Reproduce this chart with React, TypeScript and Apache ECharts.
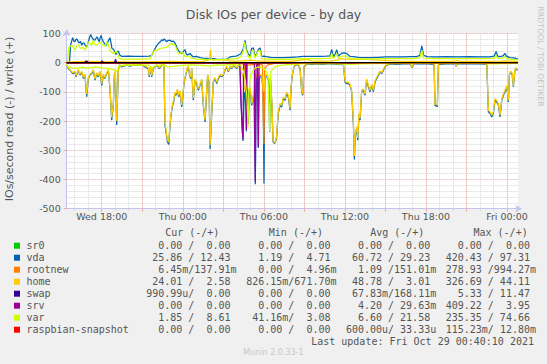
import React, { useEffect, useRef } from "react";
import * as echarts from "echarts";

const TITLE = "Disk IOs per device - by day";
const Y_TITLE = "IOs/second read (-) / write (+)";
const SIDE_TEXT = "RRDTOOL / TOBI OETIKER";
const FOOTER = "Munin 2.0.33-1";
const LAST_UPDATE = "Last update: Fri Oct 29 00:40:10 2021";

// hours since Wed 00:00
const X_START = 15.41;
const X_END = 48.81;
const xLabelHours = [18, 24, 30, 36, 42, 48];
const xLabels = ["Wed 18:00", "Thu 00:00", "Thu 06:00", "Thu 12:00", "Thu 18:00", "Fri 00:00"];
const majorGridHours = [18, 21, 24, 27, 30, 33, 36, 39, 42, 45, 48];
const minorGridHours = [16, 17, 18, 19, 20, 21, 22, 23, 24, 25, 26, 27, 28, 29, 30, 31, 32, 33, 34, 35, 36, 37, 38, 39, 40, 41, 42, 43, 44, 45, 46, 47, 48];
const Y_MIN = -500;
const Y_MAX = 100;
const Y_STEP = 100;

const vdaWrite = [[15.41,2],[15.62,3],[15.70,60],[15.85,85],[15.93,74],[16.02,71],[16.10,80],[16.19,79],[16.27,70],[16.34,67],[16.43,72],[16.52,59],[16.60,66],[16.69,67],[16.80,58],[16.89,53],[16.97,65],[17.04,76],[17.12,88],[17.19,96],[17.26,88],[17.33,82],[17.42,78],[17.50,76],[17.58,83],[17.65,88],[17.73,80],[17.82,71],[17.88,84],[17.95,93],[18.04,80],[18.12,71],[18.22,65],[18.32,59],[18.41,65],[18.50,75],[18.61,85],[18.68,70],[18.76,48],[18.84,47],[18.91,42],[18.98,35],[19.06,28],[19.15,35],[19.23,40],[19.30,30],[19.35,25],[19.42,23],[19.48,21],[20.0,22],[20.5,21],[21.0,21],[21.5,22],[21.70,24],[21.82,36],[21.95,48],[22.07,58],[22.19,65],[22.32,70],[22.44,78],[22.52,74],[22.61,81],[22.70,77],[22.81,71],[22.93,76],[23.06,76],[23.18,72],[23.30,73],[23.40,68],[23.50,59],[23.58,50],[23.67,42],[23.80,35],[23.92,31],[24.05,38],[24.17,44],[24.25,30],[24.34,25],[24.44,28],[24.54,31],[24.66,24],[24.78,19],[25.0,21],[25.28,17],[25.5,15],[25.77,14],[26.0,13],[26.26,13],[26.5,12],[26.76,11],[27.0,11],[27.25,12],[27.5,19],[27.74,21],[27.95,22],[28.1,25],[28.3,30],[28.48,48],[28.61,76],[28.73,42],[28.85,30],[28.98,22],[29.10,48],[29.22,50],[29.35,22],[29.47,30],[29.59,45],[29.72,50],[29.84,20],[30.0,22],[30.5,18],[31.0,17],[31.5,17],[32.0,18],[32.5,19],[32.92,21],[33.5,21],[34.16,21],[34.6,22],[34.9,23],[35.02,45],[35.15,20],[35.27,28],[35.39,44],[35.52,22],[35.76,32],[36.0,33],[36.13,31],[36.38,21],[36.62,20],[37.0,18],[37.86,17],[38.5,18],[39.10,19],[39.7,19],[40.32,19],[40.9,20],[41.32,20],[41.55,25],[41.69,57],[41.82,25],[42.06,20],[42.5,19],[42.80,19],[43.5,20],[44.3,19],[45.26,20],[46.0,19],[46.74,19],[47.05,22],[47.19,38],[47.30,22],[47.48,20],[47.70,23],[47.85,31],[47.95,22],[48.22,17],[48.5,16],[48.67,14],[48.80,13]];

const varWrite = [[15.41,1],[15.46,2],[15.55,50],[15.65,55],[15.78,59],[15.90,50],[16.02,42],[16.15,55],[16.27,61],[16.40,50],[16.52,48],[16.64,52],[16.76,42],[16.89,55],[17.01,70],[17.13,65],[17.26,60],[17.38,76],[17.50,62],[17.63,60],[17.75,64],[17.87,70],[18.00,62],[18.12,60],[18.25,55],[18.37,70],[18.50,60],[18.61,42],[18.74,36],[18.86,31],[18.98,35],[19.11,38],[19.20,25],[19.31,14],[19.5,12],[20.0,12],[20.5,12],[21.0,12],[21.58,13],[21.82,36],[21.95,42],[22.07,42],[22.20,45],[22.32,48],[22.55,50],[22.81,53],[23.00,60],[23.18,65],[23.30,60],[23.42,60],[23.55,45],[23.67,31],[23.80,30],[23.92,36],[24.05,30],[24.17,19],[24.30,20],[24.41,22],[24.55,18],[24.66,14],[25.0,12],[25.5,11],[26.0,10],[26.76,10],[27.0,10],[27.5,12],[28.0,13],[28.3,20],[28.48,40],[28.58,70],[28.68,45],[28.85,20],[29.0,15],[29.10,38],[29.22,42],[29.35,15],[29.59,40],[29.72,42],[29.84,13],[30.5,12],[31.0,11],[32.0,12],[33.0,13],[34.0,13],[34.9,14],[35.02,32],[35.15,13],[35.39,30],[35.52,14],[35.76,22],[36.13,22],[36.38,13],[37.0,12],[38.0,12],[39.0,13],[40.0,13],[41.0,13],[41.55,16],[41.69,42],[41.82,15],[42.5,13],[43.5,13],[44.5,13],[45.5,13],[46.5,13],[47.05,14],[47.19,25],[47.30,14],[47.70,15],[47.85,22],[47.95,14],[48.3,11],[48.80,9]];

const homeWrite = [[15.41,2],[16.0,3],[17.0,4],[18.0,3],[19.0,3],[20.0,2],[21.0,2],[22.0,3],[23.0,4],[24.0,3],[24.8,3],[25.5,4],[25.85,8],[25.97,10],[26.05,44],[26.12,12],[26.4,8],[26.8,10],[27.2,9],[27.5,6],[28.0,4],[28.5,6],[29.0,8],[29.5,6],[30.0,5],[30.5,5],[31.0,4],[32.0,4],[32.9,10],[33.2,11],[33.5,6],[34.0,5],[34.5,5],[35.0,6],[35.5,8],[35.7,13],[36.0,12],[36.5,12],[37.0,11],[37.5,12],[37.9,10],[38.5,8],[39.0,7],[39.6,6],[40.0,5],[41.0,4],[42.0,4],[43.0,4],[44.0,4],[44.3,7],[44.5,4],[45.5,4],[46.5,4],[47.5,5],[48.0,6],[48.80,3]];

const vdaRead = [[15.41,-9],[15.53,-21],[15.65,-26],[15.85,-38],[16.02,-32],[16.10,-49],[16.27,-26],[16.39,-43],[16.52,-32],[16.64,-55],[16.76,-43],[16.89,-117],[17.01,-55],[17.13,-43],[17.26,-38],[17.38,-26],[17.50,-60],[17.63,-38],[17.75,-49],[17.87,-32],[18.00,-78],[18.12,-43],[18.24,-55],[18.37,-38],[18.49,-26],[18.61,-89],[18.74,-197],[18.86,-146],[18.94,-43],[19.01,-32],[19.11,-214],[19.23,-26],[19.31,-9],[19.48,-15],[19.85,-9],[20.10,-12],[20.34,-9],[20.60,-10],[20.83,-7],[21.05,-10],[21.21,-15],[21.45,-21],[21.52,-49],[21.62,-15],[21.70,-49],[21.82,-21],[22.07,-9],[22.27,-21],[22.44,-9],[22.61,-9],[22.68,-214],[22.76,-237],[22.86,-271],[22.96,-280],[23.06,-214],[23.13,-180],[23.25,-146],[23.35,-129],[23.42,-106],[23.50,-112],[23.60,-95],[23.70,-117],[23.80,-100],[23.92,-152],[23.99,-123],[24.09,-72],[24.24,-38],[24.34,-21],[24.41,-15],[24.49,-38],[24.58,-55],[24.66,-21],[24.78,-129],[24.91,-60],[25.03,-72],[25.15,-95],[25.28,-78],[25.40,-60],[25.52,-146],[25.65,-203],[25.77,-100],[25.84,-43],[25.94,-66],[26.02,-296],[26.14,-180],[26.26,-66],[26.39,-55],[26.51,-72],[26.63,-55],[26.76,-43],[26.88,-49],[27.00,-43],[27.13,-26],[27.25,-15],[27.37,-32],[27.50,-15],[27.62,-21],[27.74,-9],[27.87,-15],[27.99,-21],[28.11,-9],[28.24,-15],[28.30,-120],[28.40,-230],[28.46,-268],[28.52,-150],[28.58,-100],[28.66,-135],[28.71,-235],[28.76,-90],[28.85,-210],[28.92,-100],[28.98,-90],[29.10,-146],[29.17,-135],[29.27,-100],[29.33,-300],[29.37,-416],[29.42,-150],[29.47,-55],[29.53,-43],[29.59,-292],[29.65,-60],[29.75,-45],[29.85,-50],[29.95,-100],[30.01,-414],[30.07,-60],[30.15,-45],[30.25,-50],[30.35,-60],[30.43,-238],[30.50,-60],[30.60,-150],[30.68,-271],[30.80,-277],[30.93,-262],[31.07,-174],[31.20,-146],[31.32,-152],[31.44,-123],[31.57,-129],[31.69,-106],[31.81,-117],[31.94,-163],[32.01,-89],[32.11,-43],[32.23,-15],[32.38,-7],[32.55,-9],[32.68,-21],[32.80,-100],[32.88,-112],[32.97,-15],[33.17,-5],[33.6,-6],[33.91,-5],[34.3,-6],[34.65,-5],[35.0,-5],[35.39,-6],[35.89,-7],[36.01,-66],[36.13,-72],[36.26,-72],[36.38,-78],[36.50,-100],[36.63,-214],[36.70,-332],[36.77,-249],[36.87,-226],[36.95,-266],[37.04,-180],[37.12,-197],[37.24,-100],[37.37,-95],[37.49,-112],[37.61,-60],[37.74,-83],[37.86,-100],[37.98,-78],[38.11,-100],[38.23,-66],[38.35,-55],[38.48,-43],[38.60,-32],[38.72,-38],[38.85,-26],[38.97,-15],[39.09,-9],[39.34,-5],[39.8,-6],[40.3,-5],[40.82,-5],[40.99,-18],[41.07,-5],[41.6,-5],[42.18,-5],[42.60,-7],[42.67,-149],[42.75,-146],[42.84,-152],[42.92,-7],[43.5,-5],[44.15,-4],[44.23,-13],[44.32,-4],[45.0,-5],[45.8,-4],[46.50,-6],[46.62,-169],[46.74,-174],[46.87,-186],[46.99,-174],[47.11,-129],[47.24,-135],[47.36,-146],[47.48,-186],[47.61,-129],[47.73,-112],[47.85,-100],[47.98,-83],[48.10,-135],[48.17,-43],[48.27,-32],[48.37,-38],[48.47,-83],[48.57,-32],[48.64,-21],[48.80,-26]];

const homeRead = [[15.41,-8],[15.53,-19],[15.65,-24],[15.85,-35],[16.02,-30],[16.10,-45],[16.27,-24],[16.39,-40],[16.52,-30],[16.64,-51],[16.76,-40],[16.89,-108],[17.01,-51],[17.13,-40],[17.26,-35],[17.38,-24],[17.50,-56],[17.63,-35],[17.75,-45],[17.87,-30],[18.00,-72],[18.12,-40],[18.24,-51],[18.37,-35],[18.49,-24],[18.61,-84],[18.74,-188],[18.86,-140],[18.94,-40],[19.01,-30],[19.11,-200],[19.23,-24],[19.31,-7],[19.48,-12],[19.85,-7],[20.10,-9],[20.34,-7],[20.60,-8],[20.83,-5],[21.05,-8],[21.21,-12],[21.45,-18],[21.52,-45],[21.62,-12],[21.70,-45],[21.82,-18],[22.07,-7],[22.27,-18],[22.44,-7],[22.61,-7],[22.68,-205],[22.76,-230],[22.86,-265],[22.96,-272],[23.06,-208],[23.13,-175],[23.25,-140],[23.35,-124],[23.42,-102],[23.50,-108],[23.60,-91],[23.70,-112],[23.80,-96],[23.92,-145],[23.99,-118],[24.09,-68],[24.24,-35],[24.34,-18],[24.41,-12],[24.49,-35],[24.58,-51],[24.66,-18],[24.78,-122],[24.91,-56],[25.03,-68],[25.15,-90],[25.28,-74],[25.40,-56],[25.52,-140],[25.65,-196],[25.77,-95],[25.84,-40],[25.94,-62],[26.02,-282],[26.14,-172],[26.26,-62],[26.39,-51],[26.51,-68],[26.63,-51],[26.76,-40],[26.88,-45],[27.00,-40],[27.13,-23],[27.25,-12],[27.37,-29],[27.50,-12],[27.62,-18],[27.74,-7],[27.87,-12],[27.99,-18],[28.11,-7],[28.24,-12],[28.30,-30],[28.40,-45],[28.46,-40],[28.52,-80],[28.58,-95],[28.66,-75],[28.71,-80],[28.76,-85],[28.85,-95],[28.92,-92],[28.98,-85],[29.10,-140],[29.17,-130],[29.27,-95],[29.33,-60],[29.37,-40],[29.42,-45],[29.47,-50],[29.53,-40],[29.59,-38],[29.65,-50],[29.75,-40],[29.85,-45],[29.95,-90],[30.01,-100],[30.07,-55],[30.15,-40],[30.25,-45],[30.35,-55],[30.43,-60],[30.50,-55],[30.60,-145],[30.68,-268],[30.80,-275],[30.93,-258],[31.07,-168],[31.20,-140],[31.32,-147],[31.44,-118],[31.57,-124],[31.69,-101],[31.81,-112],[31.94,-157],[32.01,-85],[32.11,-40],[32.23,-12],[32.38,-5],[32.55,-7],[32.68,-18],[32.80,-95],[32.88,-108],[32.97,-12],[33.17,-3],[33.6,-4],[33.91,-3],[34.3,-4],[34.65,-3],[35.0,-3],[35.39,-4],[35.89,-5],[36.01,-62],[36.13,-68],[36.26,-68],[36.38,-74],[36.50,-95],[36.63,-208],[36.70,-320],[36.77,-242],[36.87,-220],[36.95,-258],[37.04,-174],[37.12,-190],[37.24,-95],[37.37,-91],[37.49,-107],[37.61,-56],[37.74,-79],[37.86,-95],[37.98,-74],[38.11,-95],[38.23,-62],[38.35,-51],[38.48,-40],[38.60,-29],[38.72,-35],[38.85,-23],[38.97,-12],[39.09,-7],[39.34,-3],[39.8,-4],[40.3,-3],[40.82,-3],[40.99,-16],[41.07,-3],[41.6,-3],[42.18,-3],[42.60,-5],[42.67,-144],[42.75,-141],[42.84,-147],[42.92,-5],[43.5,-3],[44.15,-2],[44.23,-11],[44.32,-2],[45.0,-3],[45.8,-2],[46.50,-4],[46.62,-163],[46.74,-168],[46.87,-180],[46.99,-168],[47.11,-124],[47.24,-130],[47.36,-141],[47.48,-180],[47.61,-124],[47.73,-107],[47.85,-95],[47.98,-79],[48.10,-130],[48.17,-40],[48.27,-29],[48.37,-35],[48.47,-79],[48.57,-29],[48.64,-18],[48.80,-24]];

const varRead = [[15.41,-5],[15.5,-15],[15.8,-18],[16.2,-20],[16.6,-16],[17.0,-19],[17.5,-15],[18.0,-18],[18.5,-20],[18.9,-25],[19.1,-30],[19.3,-12],[19.6,-9],[20.5,-8],[21.5,-9],[21.7,-20],[22.0,-10],[22.6,-8],[22.9,-15],[23.5,-12],[24.0,-10],[24.5,-8],[25.0,-9],[25.5,-10],[26.0,-12],[26.5,-8],[27.0,-9],[27.5,-7],[28.0,-8],[28.3,-10],[28.5,-30],[28.62,-60],[28.75,-120],[28.83,-220],[28.90,-100],[29.0,-45],[29.3,-20],[29.6,-15],[30.0,-20],[30.3,-40],[30.43,-236],[30.52,-30],[30.8,-15],[31.2,-10],[32.0,-6],[33.0,-4],[35.0,-4],[36.5,-6],[37.0,-5],[38.0,-4],[40.0,-3],[42.0,-3],[44.0,-3],[46.0,-3],[46.7,-5],[47.5,-4],[48.8,-3]];

const srvRead = [[15.41,0],[28.22,0],[28.30,-120],[28.40,-225],[28.46,-262],[28.50,-10],[28.66,0],[28.71,-231],[28.76,0],[29.30,0],[29.33,-280],[29.37,-409],[29.42,-20],[29.53,0],[29.59,-288],[29.65,0],[48.81,0]];
const srvWrite = [[15.41,0],[48.81,0]];
const rootnewRead = [[15.41,0],[28.30,0],[28.40,-5],[28.55,-8],[28.62,-40],[28.66,-130],[28.70,-10],[28.9,-8],[29.5,-6],[29.9,-8],[29.96,-200],[30.01,-279],[30.06,-20],[30.3,-8],[30.7,-4],[31.0,0],[48.81,0]];
const rootnewWrite = [[15.41,0],[16.8,0],[16.85,1],[16.9,0],[18.5,0],[18.55,1],[18.6,0],[48.81,0]];
const swapRead = [[15.41,0],[48.81,0]];
const swapWrite = [[15.41,0],[16.75,0],[16.82,5],[16.95,4],[17.02,0],[17.95,0],[18.02,6],[18.10,0],[18.95,0],[19.02,11],[19.10,0],[48.81,0]];
const sr0Read = [[15.41,0],[48.81,0]];
const sr0Write = [[15.41,0],[48.81,0]];
const raspRead = [[15.41,0],[48.81,0]];
const raspWrite = [[15.41,0],[48.81,0]];

const names = ["sr0", "vda", "rootnew", "home", "swap", "srv", "var", "raspbian-snapshot"];
const colors = ["#00cc00", "#0066b3", "#ff8000", "#ffcc00", "#330099", "#990099", "#ccff00", "#ff0000"];
const readData = [sr0Read, vdaRead, rootnewRead, homeRead, swapRead, srvRead, varRead, raspRead];
const writeData = [sr0Write, vdaWrite, rootnewWrite, homeWrite, swapWrite, srvWrite, varWrite, raspWrite];

const headers = ["Cur (-/+)", "Min (-/+)", "Avg (-/+)", "Max (-/+)"];
const curRead = ["0.00", "25.86", "6.45m", "24.01", "990.99u", "0.00", "1.85", "0.00"];
const curWrite = ["0.00", "12.43", "137.91m", "2.58", "0.00", "0.00", "8.61", "0.00"];
const minRead = ["0.00", "1.19", "0.00", "826.15m", "0.00", "0.00", "41.16m", "0.00"];
const minWrite = ["0.00", "4.71", "4.96m", "671.70m", "0.00", "0.00", "3.08", "0.00"];
const avgRead = ["0.00", "60.72", "1.09", "48.78", "67.83m", "4.20", "6.60", "600.00u"];
const avgWrite = ["0.00", "29.23", "151.01m", "3.01", "168.11m", "29.63m", "21.58", "33.33u"];
const maxRead = ["0.00", "420.43", "278.93", "326.69", "5.33", "409.22", "235.35", "115.23m"];
const maxWrite = ["0.00", "97.31", "994.27m", "44.11", "11.47", "3.95", "74.66", "12.80m"];

const TEXT = "#555555";
const AXIS = "#c4c4ee";
const MAJOR = "#f2a6a6";
const MINOR = "#d6d6d6";
const MONO = '10px "DejaVu Sans Mono", monospace';
const LINE_W = 1.25;

function buildGraphics() {
  const g: any[] = [];
  g.push({ type: "text", x: 273.5, y: 14, silent: true, style: { text: TITLE, font: '12.5px "DejaVu Sans", sans-serif', fill: TEXT, align: "center", verticalAlign: "middle" } });
  g.push({ type: "text", x: 9.5, y: 119, rotation: Math.PI / 2, silent: true, style: { text: Y_TITLE, font: '11px "DejaVu Sans", sans-serif', fill: TEXT, align: "center", verticalAlign: "middle" } });
  g.push({ type: "text", x: 540.5, y: 56.5, rotation: -Math.PI / 2, silent: true, style: { text: SIDE_TEXT, font: '7.8px "DejaVu Sans", sans-serif', fill: "#c4c4c4", align: "center", verticalAlign: "middle" } });
  g.push({ type: "text", x: 273.5, y: 352.7, silent: true, style: { text: FOOTER, font: '8px "DejaVu Sans", sans-serif', fill: "#c8c8c8", align: "center", verticalAlign: "middle" } });
  g.push({ type: "text", x: 311.2, y: 341.7, silent: true, style: { text: LAST_UPDATE, font: MONO, fill: TEXT, align: "left", verticalAlign: "middle" } });

  const headerX = [165.2, 268.8, 370.2, 473.5];
  headers.forEach((h, i) => {
    g.push({ type: "text", x: headerX[i], y: 232.3, silent: true, style: { text: h, font: MONO, fill: TEXT, align: "left", verticalAlign: "middle" } });
  });

  const cw = 6.02;
  const fieldX = [146.2, 246.2, 345.9, 445.7];
  const cols = [[curRead, curWrite], [minRead, minWrite], [avgRead, avgWrite], [maxRead, maxWrite]];
  names.forEach((n, r) => {
    const y = 245.7 + r * 12;
    g.push({ type: "rect", silent: true, shape: { x: 14, y: y - 3, width: 6, height: 6 }, style: { fill: colors[r] } });
    g.push({ type: "text", x: 26.5, y, silent: true, style: { text: n, font: MONO, fill: TEXT, align: "left", verticalAlign: "middle" } });
    cols.forEach((pair, c) => {
      const fx = fieldX[c];
      const a = pair[0][r];
      const b = pair[1][r];
      const sa = /[a-zA-Z]$/.test(a);
      const sb = /[a-zA-Z]$/.test(b);
      g.push({ type: "text", x: fx + (sa ? 7 : 6) * cw, y, silent: true, style: { text: a, font: MONO, fill: TEXT, align: "right", verticalAlign: "middle" } });
      g.push({ type: "text", x: fx + 7 * cw, y, silent: true, style: { text: "/", font: MONO, fill: TEXT, align: "left", verticalAlign: "middle" } });
      g.push({ type: "text", x: fx + (sb ? 15 : 14) * cw, y, silent: true, style: { text: b, font: MONO, fill: TEXT, align: "right", verticalAlign: "middle" } });
    });
  });
  return g;
}

function lineSeries(name: string, color: string, data: number[][], z = 2, width = LINE_W) {
  return {
    type: "line",
    name,
    data,
    symbol: "none",
    showSymbol: false,
    silent: true,
    z,
    lineStyle: { color, width },
    itemStyle: { color },
    xAxisIndex: 2,
    yAxisIndex: 0,
  };
}

function buildOption() {
  const series: any[] = [];
  names.forEach((n, i) => {
    series.push(lineSeries(n + " read", colors[i], readData[i]));
    series.push(lineSeries(n + " write", colors[i], writeData[i]));
  });
  series.push(lineSeries("zero", "#000000", [[X_START, 0], [X_END, 0]], 5, 1.2));

  const gridAxis = (values: number[], color: string, tickLen: number) => ({
    type: "value",
    min: X_START,
    max: X_END,
    gridIndex: 0,
    position: "bottom",
    offset: 0,
    axisLine: { show: false, onZero: false },
    axisTick: { show: true, customValues: values, length: tickLen, lineStyle: { color, width: 1 } },
    axisLabel: { show: false },
    splitLine: { show: true, lineStyle: { color, width: 1, type: [1, 1] } },
  });

  return {
    animation: false,
    backgroundColor: "#f0f0f0",
    grid: { left: 66.7, top: 33.3, width: 451.3, height: 175.4, show: true, backgroundColor: "#ffffff", borderWidth: 0, containLabel: false },
    xAxis: [
      gridAxis(minorGridHours, MINOR, 2),
      gridAxis(majorGridHours, MAJOR, 3),
      {
        type: "value",
        min: X_START,
        max: X_END,
        gridIndex: 0,
        position: "bottom",
        offset: 0,
        axisLine: { show: true, onZero: false, lineStyle: { color: AXIS, width: 1 }, symbol: ["none", "arrow"], symbolSize: [6, 7], symbolOffset: [0, 4] },
        axisTick: { show: false },
        splitLine: { show: false },
        axisLabel: {
          customValues: xLabelHours,
          formatter: (v: number) => xLabels[xLabelHours.indexOf(Math.round(v))] ?? "",
          color: TEXT,
          fontSize: 9.5,
          fontFamily: "DejaVu Sans",
          margin: 3,
        },
      },
    ],
    yAxis: {
      type: "value",
      min: Y_MIN,
      max: Y_MAX,
      interval: Y_STEP,
      axisLine: { show: true, lineStyle: { color: AXIS, width: 1 }, symbol: ["none", "arrow"], symbolSize: [6, 7], symbolOffset: [0, 4] },
      axisTick: { show: true, length: 3, lineStyle: { color: MAJOR } },
      axisLabel: { color: TEXT, fontSize: 9.5, fontFamily: "DejaVu Sans", margin: 6 },
      splitLine: { show: true, lineStyle: { color: MAJOR, width: 1, type: [1, 1] } },
      minorTick: { show: false, splitNumber: 5 },
      minorSplitLine: { show: true, lineStyle: { color: MINOR, width: 1, type: [1, 1] } },
    },
    series,
    graphic: buildGraphics(),
  };
}

export default function App() {
  const ref = useRef<HTMLDivElement>(null);
  useEffect(() => {
    if (!ref.current) return;
    const chart = echarts.init(ref.current, null, { renderer: "svg" });
    chart.setOption(buildOption() as any);
    return () => chart.dispose();
  }, []);
  return (
    <div style={{ position: "fixed", left: 0, top: 0, width: 547, height: 364, background: "#f0f0f0" }}>
      <div ref={ref} style={{ width: 547, height: 364 }} />
    </div>
  );
}
